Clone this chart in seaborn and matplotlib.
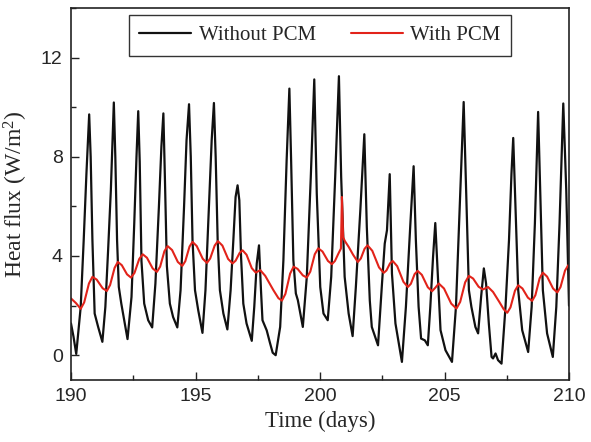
import matplotlib
matplotlib.use("Agg")
import matplotlib.pyplot as plt
from matplotlib.ticker import MultipleLocator
import seaborn as sns
import pandas as pd

# --- data ---
t_without = [
    190.00, 190.10, 190.21, 190.39, 190.51, 190.62, 190.73, 190.79, 190.86, 190.95, 191.09,
    191.26, 191.38, 191.49, 191.60, 191.68, 191.72, 191.78, 191.85, 191.92, 192.02,
    192.27, 192.43, 192.54, 192.63, 192.70, 192.76, 192.83, 192.94, 193.10,
    193.26, 193.39, 193.53, 193.63, 193.71, 193.77, 193.85, 193.97, 194.10,
    194.27, 194.40, 194.54, 194.64, 194.74, 194.81, 194.88, 194.98, 195.11,
    195.28, 195.40, 195.54, 195.65, 195.74, 195.81, 195.89, 195.98, 196.12,
    196.28, 196.41, 196.52, 196.61, 196.69, 196.76, 196.83, 196.92, 197.05,
    197.26, 197.36, 197.46, 197.55, 197.63, 197.69, 197.86, 197.99, 198.10,
    198.22, 198.40, 198.53, 198.66, 198.77, 198.84, 198.93, 199.03, 199.11,
    199.31, 199.47, 199.63, 199.77, 199.87, 200.01, 200.14,
    200.31, 200.45, 200.61, 200.76, 200.85, 200.99, 201.15,
    201.31, 201.44, 201.62, 201.78, 201.88, 202.00, 202.08,
    202.33, 202.49, 202.60, 202.69, 202.80, 202.89, 203.03,
    203.29, 203.45, 203.63, 203.76, 203.85, 203.96, 204.06, 204.21,
    204.33, 204.43, 204.54, 204.63, 204.73, 204.84, 205.04,
    205.30, 205.46, 205.60, 205.77, 205.87, 205.98, 206.08, 206.24,
    206.35, 206.47, 206.58, 206.67, 206.78, 206.89, 206.95, 207.05, 207.15,
    207.29, 207.45, 207.59, 207.69, 207.76, 207.85, 207.96, 208.12,
    208.36, 208.50, 208.63, 208.76, 208.86, 208.95, 209.12,
    209.35, 209.49, 209.62, 209.77, 209.89, 210.00,
]
q_without = [
    1.28, 0.75, 0.05, 1.95, 4.64, 7.33, 9.71, 8.00, 4.64, 1.68, 1.14,
    0.54, 1.95, 4.23, 6.65, 9.07, 10.19, 8.00, 4.64, 2.75, 2.08,
    0.65, 2.35, 5.31, 8.00, 9.84, 7.80, 3.80, 2.08, 1.41,
    1.12, 2.89, 5.98, 8.40, 9.75, 7.20, 3.60, 2.08, 1.54,
    1.12, 2.62, 5.98, 8.67, 10.12, 8.00, 4.64, 2.62, 1.81,
    0.90, 2.62, 5.98, 8.67, 10.17, 8.00, 4.64, 2.62, 1.68,
    1.04, 2.62, 4.64, 6.38, 6.85, 6.25, 3.96, 2.08, 1.28,
    0.58, 1.95, 3.70, 4.43, 2.62, 1.41, 1.00, 0.50, 0.10,
    0.00, 1.14, 3.83, 7.86, 10.75, 7.86, 3.83, 2.49, 2.22,
    1.14, 3.16, 7.19, 11.12, 6.52, 2.75, 1.68,
    1.41, 3.16, 7.19, 11.25, 7.19, 3.16, 1.68,
    0.77, 2.75, 5.85, 8.91, 5.17, 2.20, 1.14,
    0.40, 2.89, 4.50, 5.04, 7.30, 3.29, 1.28,
    -0.27, 1.95, 5.31, 7.62, 4.64, 1.95, 0.67, 0.60,
    0.40, 1.95, 3.96, 5.33, 3.29, 1.01, 0.20,
    -0.27, 1.95, 5.71, 10.21, 6.65, 2.62, 1.95, 1.14,
    0.88, 2.35, 3.50, 2.89, 1.28, -0.07, -0.13, 0.07, -0.20,
    -0.34, 1.95, 4.64, 7.33, 8.76, 5.98, 2.62, 1.01,
    0.13, 1.95, 5.31, 9.81, 5.98, 2.62, 0.88,
    -0.07, 1.95, 5.31, 10.15, 6.65, 2.00,
]

t_with = [
    190.00, 190.20, 190.39, 190.53, 190.72, 190.86, 191.03, 191.27,
    191.44, 191.57, 191.75, 191.88, 192.04, 192.25,
    192.41, 192.55, 192.74, 192.88, 193.05, 193.28,
    193.45, 193.58, 193.75, 193.88, 194.06, 194.29,
    194.47, 194.59, 194.76, 194.88, 195.05, 195.29,
    195.46, 195.59, 195.77, 195.90, 196.08, 196.31,
    196.49, 196.61, 196.77, 196.89, 197.05, 197.26,
    197.42, 197.60, 197.80, 198.13, 198.33,
    198.47, 198.61, 198.80, 198.94, 199.10, 199.31,
    199.47, 199.61, 199.79, 199.93, 200.10, 200.32,
    200.48, 200.60, 200.74, 200.84, 200.88, 200.93, 201.00, 201.15, 201.33,
    201.52, 201.64, 201.79, 201.91, 202.10, 202.37,
    202.56, 202.67, 202.81, 202.92, 203.10, 203.35,
    203.53, 203.65, 203.80, 203.92, 204.09, 204.33,
    204.50, 204.63, 204.77, 204.98, 205.27,
    205.48, 205.63, 205.83, 205.98, 206.15, 206.37,
    206.54, 206.75, 206.95, 207.20, 207.38,
    207.52, 207.65, 207.83, 207.96, 208.13, 208.35,
    208.52, 208.65, 208.82, 208.95, 209.12, 209.36,
    209.53, 209.66, 209.84, 209.97, 210.00,
]
q_with = [
    2.29, 2.10, 1.87, 2.13, 2.89, 3.16, 3.05, 2.70,
    2.59, 2.83, 3.52, 3.76, 3.63, 3.26,
    3.13, 3.32, 3.88, 4.07, 3.93, 3.50,
    3.36, 3.57, 4.19, 4.40, 4.24, 3.76,
    3.60, 3.79, 4.38, 4.57, 4.40, 3.89,
    3.72, 3.90, 4.42, 4.60, 4.42, 3.88,
    3.70, 3.81, 4.12, 4.23, 4.05, 3.51,
    3.33, 3.43, 3.20, 2.62, 2.30,
    2.20, 2.47, 3.29, 3.57, 3.48, 3.22,
    3.13, 3.37, 4.07, 4.31, 4.18, 3.80,
    3.67, 3.80, 4.10, 4.30, 6.38, 4.75, 4.60, 4.37, 4.05,
    3.76, 3.90, 4.29, 4.43, 4.21, 3.54,
    3.32, 3.42, 3.70, 3.80, 3.59, 2.96,
    2.75, 2.88, 3.27, 3.40, 3.24, 2.74,
    2.58, 2.72, 2.89, 2.69, 2.08,
    1.88, 2.15, 2.94, 3.20, 3.09, 2.76,
    2.65, 2.75, 2.55, 2.15, 1.85,
    1.71, 1.93, 2.60, 2.82, 2.69, 2.32,
    2.19, 2.42, 3.10, 3.33, 3.17, 2.69,
    2.53, 2.75, 3.41, 3.63, 3.60,
]

series_labels = ["Without PCM", "With PCM"]
x_ticks = [190, 195, 200, 205, 210]
y_ticks = [0, 4, 8, 12]

df_without = pd.DataFrame({"Time": t_without, "Flux": q_without})
df_with = pd.DataFrame({"Time": t_with, "Flux": q_with})

sns.set_style("ticks")
plt.rcParams["mathtext.fontset"] = "custom"
plt.rcParams["mathtext.rm"] = "Liberation Serif"
plt.rcParams["mathtext.it"] = "Liberation Serif:italic"

fig = plt.figure(figsize=(5.91, 4.42), dpi=100)
ax = fig.add_axes([71 / 591, 1 - 380 / 442, 498 / 591, (380 - 8) / 442])

sns.lineplot(data=df_without, x="Time", y="Flux", ax=ax, color="#111111",
             linewidth=1.6, sort=False, estimator=None, label=series_labels[0])
sns.lineplot(data=df_with, x="Time", y="Flux", ax=ax, color="#e2231a",
             linewidth=1.5, sort=False, estimator=None, label=series_labels[1])

ax.set_xlim(190, 210)
ax.set_ylim(-1, 14)
ax.set_xticks(x_ticks)
ax.set_yticks(y_ticks)
ax.xaxis.set_minor_locator(MultipleLocator(2.5))
ax.yaxis.set_minor_locator(MultipleLocator(2))
ax.tick_params(which="both", direction="in", top=False, right=False,
               width=1.0, color="#222222")
ax.tick_params(which="major", length=6, labelsize=14, pad=6)
ax.tick_params(which="minor", length=3.5)
for lab in ax.get_xticklabels() + ax.get_yticklabels():
    lab.set_fontfamily("Liberation Sans")
for sp in ax.spines.values():
    sp.set_visible(True)
    sp.set_linewidth(1.2)
    sp.set_color("#222222")

ax.set_xlabel("Time (days)", fontfamily="Liberation Serif", fontsize=16.5, labelpad=4)
ax.set_ylabel("Heat flux (W/m$^2$)", fontfamily="Liberation Serif", fontsize=17, labelpad=8)

leg = ax.legend(loc="upper center", bbox_to_anchor=(0.5, 1.0), ncol=2,
                prop={"family": "Liberation Serif", "size": 15},
                frameon=True, fancybox=False, edgecolor="black",
                handlelength=2.5, handletextpad=0.35, columnspacing=1.7,
                borderaxespad=0.35, borderpad=0.5)
leg.get_frame().set_linewidth(1.0)

fig.savefig("out.png", dpi=100)
